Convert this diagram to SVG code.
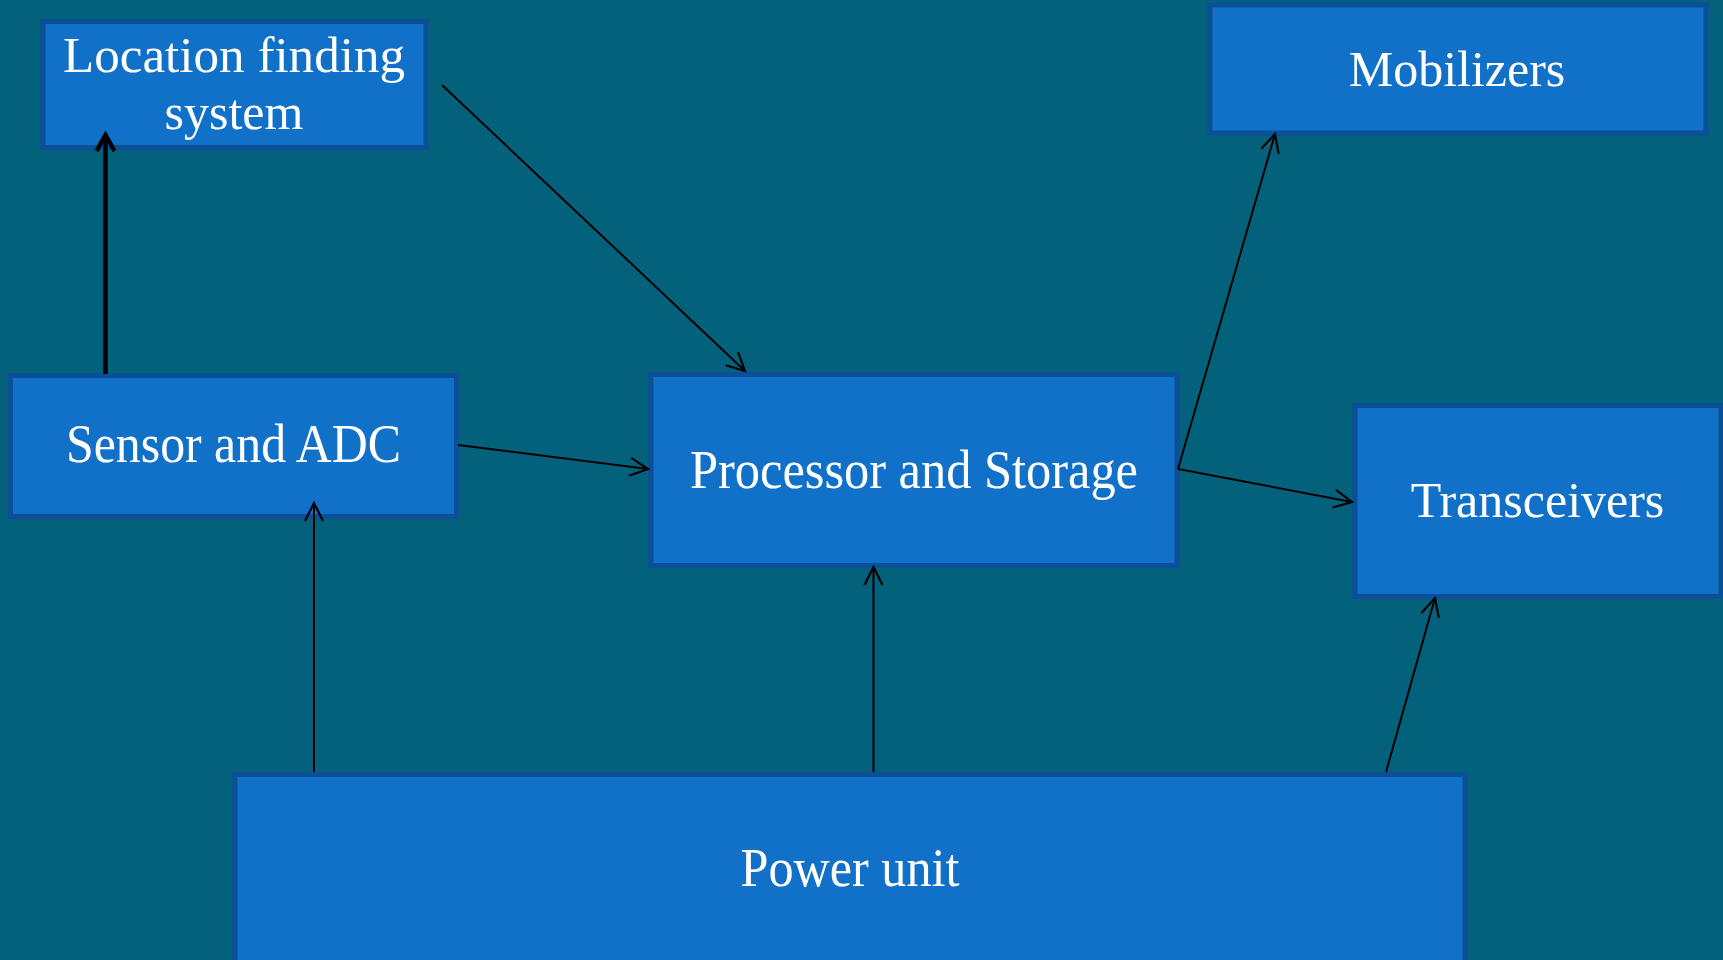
<svg xmlns="http://www.w3.org/2000/svg" width="1723" height="960" viewBox="0 0 1723 960">
<defs>
<style>
.box{fill:#1170c8;stroke:#0b4f98;stroke-width:5}
.lbl{font-family:"Liberation Serif",serif;fill:#ffffff;text-anchor:middle}
.ln{stroke:#000;stroke-width:2;fill:none}
.thick{stroke:#000;stroke-width:4.5;fill:none}
</style>
<marker id="ah" viewBox="0 0 22 22" refX="20" refY="11" markerWidth="22" markerHeight="22" markerUnits="userSpaceOnUse" orient="auto">
<path d="M2,2 L20,11 L2,20" fill="none" stroke="#000" stroke-width="2.2"/>
</marker>
<marker id="ahT" viewBox="0 0 24 24" refX="20" refY="12" markerWidth="24" markerHeight="24" markerUnits="userSpaceOnUse" orient="auto">
<path d="M4,3 L20,12 L4,21" fill="none" stroke="#000" stroke-width="4.5"/>
</marker>
</defs>
<rect x="0" y="0" width="1723" height="960" fill="#04617c"/>
<g id="location">
<rect class="box" x="43" y="21.5" width="383" height="126"/>
<text class="lbl" x="234" y="72" font-size="50" textLength="342" lengthAdjust="spacingAndGlyphs">Location finding</text>
<text class="lbl" x="234" y="129" font-size="50">system</text>
</g>
<g id="mobilizers">
<rect class="box" x="1210" y="5" width="496" height="128"/>
<text class="lbl" x="1457" y="86" font-size="50">Mobilizers</text>
</g>
<g id="sensor">
<rect class="box" x="10.5" y="375.5" width="446" height="141"/>
<text class="lbl" x="233.5" y="462" font-size="55" textLength="335" lengthAdjust="spacingAndGlyphs">Sensor and ADC</text>
</g>
<g id="processor">
<rect class="box" x="651" y="374.5" width="526" height="191"/>
<text class="lbl" x="914" y="488" font-size="55" textLength="448" lengthAdjust="spacingAndGlyphs">Processor and Storage</text>
</g>
<g id="transceivers">
<rect class="box" x="1355" y="405.5" width="366" height="191"/>
<text class="lbl" x="1537.5" y="517" font-size="50">Transceivers</text>
</g>
<g id="power">
<rect class="box" x="235" y="774.5" width="1230" height="200"/>
<text class="lbl" x="850" y="886" font-size="54" textLength="219" lengthAdjust="spacingAndGlyphs">Power unit</text>
</g>
<g id="connectors">
<line class="thick" x1="105.5" y1="374" x2="105.5" y2="135" marker-end="url(#ahT)"/>
<line class="ln" x1="442" y1="85" x2="745" y2="371" marker-end="url(#ah)"/>
<line class="ln" x1="458" y1="445" x2="648" y2="469" marker-end="url(#ah)"/>
<line class="ln" x1="1178" y1="469" x2="1275" y2="134" marker-end="url(#ah)"/>
<line class="ln" x1="1178" y1="469" x2="1352" y2="502" marker-end="url(#ah)"/>
<line class="ln" x1="314" y1="772" x2="314" y2="503" marker-end="url(#ah)"/>
<line class="ln" x1="873.5" y1="772" x2="873.5" y2="567" marker-end="url(#ah)"/>
<line class="ln" x1="1386" y1="772" x2="1435" y2="598" marker-end="url(#ah)"/>
</g>
</svg>
